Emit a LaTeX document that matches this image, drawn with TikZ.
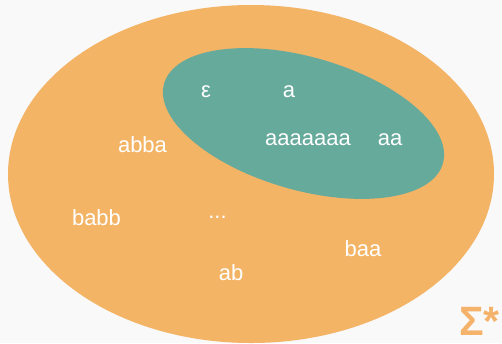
\documentclass[tikz,border=0pt]{standalone}
\usepackage{fontspec}
\setmainfont{Liberation Sans}
\definecolor{bgc}{HTML}{F9F9F9}
\definecolor{orangefill}{HTML}{F3B466}
\definecolor{tealfill}{HTML}{66AA9C}
\definecolor{sigmac}{HTML}{F5B26B}
\begin{document}
\begin{tikzpicture}[x=1bp,y=1bp,
  word/.style={text=white,font=\fontsize{22bp}{26bp}\selectfont,inner sep=0pt,anchor=base}]
\fill[bgc] (0,0) rectangle (502,-343);
\useasboundingbox (0,0) rectangle (502,-343);
\fill[orangefill] (251,-174) ellipse [x radius=243, y radius=169];
\fill[tealfill,rotate around={-16:(303.5,-123.5)}] (303.5,-123.5) ellipse [x radius=145, y radius=66.5];
\node[word] (eps) at (206,-97) {ε};
\node[word] (a) at (289,-97) {a};
\node[word] (a7) at (308,-145.7) {aaaaaaa};
\node[word] (aa) at (390,-145.7) {aa};
\node[word] (abba) at (142.5,-152.7) {abba};
\node[word] (babb) at (96.5,-225) {babb};
\node[word] (dots) at (217.5,-218) {...};
\node[word] (baa) at (363,-256.7) {baa};
\node[word] (ab) at (231,-280) {ab};
\node[text=sigmac,font=\fontsize{41bp}{48bp}\selectfont\bfseries,inner sep=0pt,anchor=base west] (sig) at (459,-335) {Σ*};
\end{tikzpicture}
\end{document}
